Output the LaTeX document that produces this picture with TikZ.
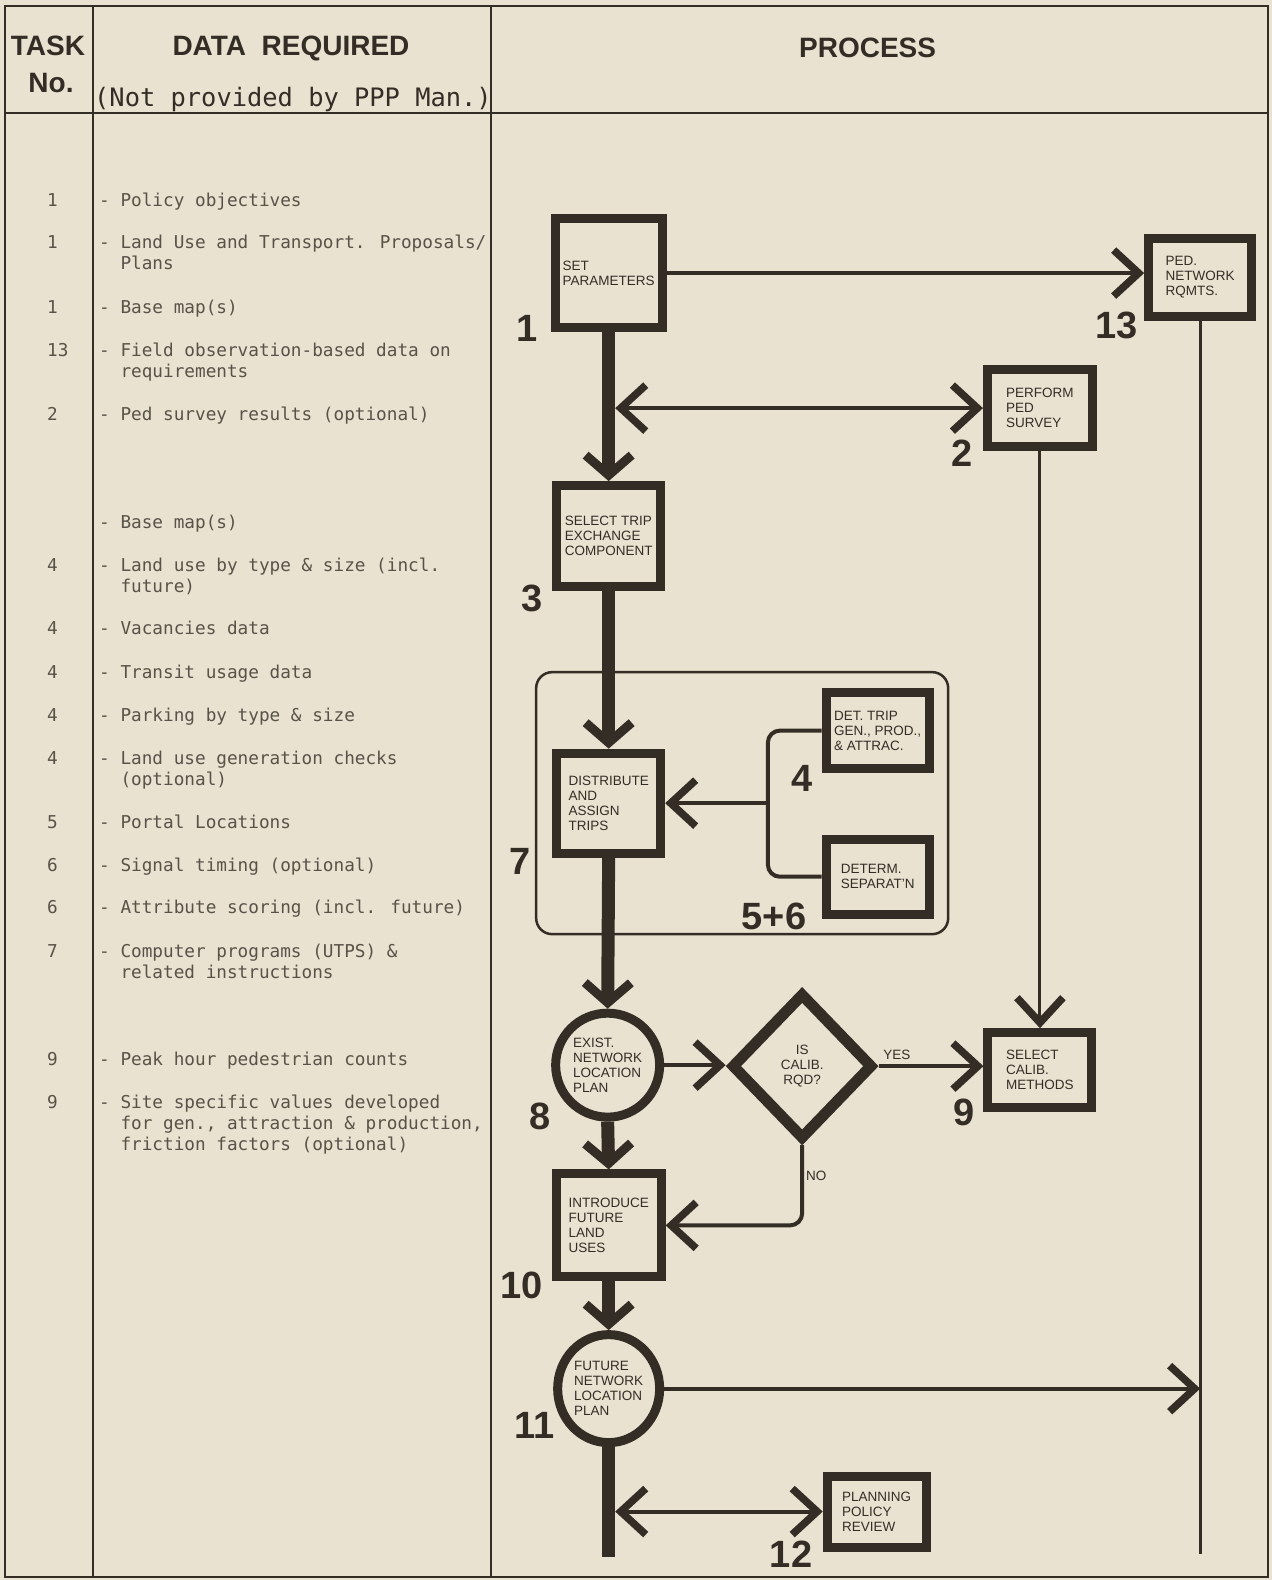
\documentclass[tikz,border=0pt]{standalone}
\usepackage{fontspec}
\setmainfont{Liberation Sans}
\newfontfamily\monof{DejaVu Sans Mono}
\usetikzlibrary{arrows.meta,shapes.geometric}
\definecolor{paper}{RGB}{233,226,208}
\definecolor{ink}{RGB}{52,45,38}
\definecolor{typew}{RGB}{88,82,72}
\newcommand{\pbfont}{\fontsize{13.5}{15}\selectfont}
\newcommand{\datafont}{\monof\fontsize{17.7}{21}\selectfont}
\newcommand{\numfont}{\fontsize{38}{40}\selectfont\bfseries}
\newcommand{\hdrfont}{\fontsize{28}{30}\selectfont\bfseries}
\begin{document}
\begin{tikzpicture}[x=1pt,y=-1pt,
  chev/.tip={Straight Barb[length=25pt,width=46pt,line width=7.5pt]},
  bigchev/.tip={Straight Barb[length=20pt,width=46pt,line width=9pt]},
  pbox/.style={draw=ink, line width=9pt, rectangle, align=left, font=\pbfont, text=ink, inner sep=0pt},
  circ/.style={draw=ink, line width=9pt, ellipse, align=left, font=\pbfont, text=ink, inner sep=0pt},
  dq/.style={draw=ink, line width=11pt, diamond, align=center, font=\pbfont, text=ink, inner sep=0pt},
  grp/.style={draw=ink, line width=2.5pt, rounded corners=16pt, rectangle, inner sep=0pt},
  trunk/.style={draw=ink, line width=13pt},
  link/.style={draw=ink, line width=4pt},
  thinlink/.style={draw=ink, line width=3pt},
  numlab/.style={font=\numfont, text=ink, inner sep=0pt},
  smalllab/.style={font=\pbfont, text=ink, inner sep=0pt},
  hdr/.style={font=\hdrfont, text=ink, inner sep=0pt, anchor=base},
  dtxt/.style={anchor=base west, inner sep=0pt, font=\datafont, text=typew, align=left},
  tline/.style={draw=ink, line width=1.8pt}
]
% background / bounding box
\fill[paper] (0,0) rectangle (1272,1580);
\useasboundingbox (0,0) rectangle (1272,1580);

% table
\draw[tline] (5,6) rectangle (1268,1577);
\draw[tline] (5,113) -- (1268,113);
\draw[tline] (93,6) -- (93,1577);
\draw[tline] (491,6) -- (491,1577);

% headers
\node[hdr] (hTask) at (48,55) {TASK};
\node[hdr] (hNo) at (51,92) {No.};
\node[hdr] (hData) at (291,55) {DATA\ \ REQUIRED};
\node[anchor=base, inner sep=0pt, text=ink, font=\monof\fontsize{25.4}{27}\selectfont] (hNot) at (293,106) {(Not provided by PPP Man.)};

% data column (multi-line entries are placed at the baseline of their last line)
\node[dtxt] (t1) at (47,206) {1};
\node[dtxt] (d1) at (99,206) {- Policy objectives};
\node[dtxt] (t2) at (47,248) {1};
\node[dtxt] (d2) at (99,269) {- Land Use and Transport. Proposals/\\\phantom{-x}Plans};
\node[dtxt] (t3) at (47,313) {1};
\node[dtxt] (d3) at (99,313) {- Base map(s)};
\node[dtxt] (t4) at (47,356) {13};
\node[dtxt] (d4) at (99,377) {- Field observation-based data on\\\phantom{-x}requirements};
\node[dtxt] (t5) at (47,420) {2};
\node[dtxt] (d5) at (99,420) {- Ped survey results (optional)};
\node[dtxt] (d6) at (99,528) {- Base map(s)};
\node[dtxt] (t7) at (47,571) {4};
\node[dtxt] (d7) at (99,592) {- Land use by type \& size (incl.\\\phantom{-x}future)};
\node[dtxt] (t8) at (47,634) {4};
\node[dtxt] (d8) at (99,634) {- Vacancies data};
\node[dtxt] (t9) at (47,678) {4};
\node[dtxt] (d9) at (99,678) {- Transit usage data};
\node[dtxt] (t10) at (47,721) {4};
\node[dtxt] (d10) at (99,721) {- Parking by type \& size};
\node[dtxt] (t11) at (47,764) {4};
\node[dtxt] (d11) at (99,785) {- Land use generation checks\\\phantom{-x}(optional)};
\node[dtxt] (t12) at (47,828) {5};
\node[dtxt] (d12) at (99,828) {- Portal Locations};
\node[dtxt] (t13) at (47,871) {6};
\node[dtxt] (d13) at (99,871) {- Signal timing (optional)};
\node[dtxt] (t14) at (47,913) {6};
\node[dtxt] (d14) at (99,913) {- Attribute scoring (incl. future)};
\node[dtxt] (t15) at (47,957) {7};
\node[dtxt] (d15) at (99,978) {- Computer programs (UTPS) \&\\\phantom{-x}related instructions};
\node[dtxt] (t16) at (47,1065) {9};
\node[dtxt] (d16) at (99,1065) {- Peak hour pedestrian counts};
\node[dtxt] (t17) at (47,1108) {9};
\node[dtxt] (d17) at (99,1150) {- Site specific values developed\\\phantom{-x}for gen., attraction \& production,\\\phantom{-x}friction factors (optional)};

\begin{scope}[x=1.0077pt,y=-1.0077pt]
\node[hdr] (hProc) at (861,57) {PROCESS};

% group frame
\node[grp, minimum width=412pt, minimum height=262pt] (grpA) at (736.5,797) {};

% process nodes
\node[pbox, minimum width=107pt, minimum height=109pt] (b1) at (604,271) {SET\\PARAMETERS};
\node[pbox, minimum width=103pt, minimum height=78pt] (b13) at (1191,275) {PED.\\NETWORK\\RQMTS.};
\node[pbox, minimum width=105pt, minimum height=77pt] (b2) at (1032,405) {PERFORM\\PED\\SURVEY};
\node[pbox, minimum width=104pt, minimum height=101pt] (b3) at (604,532) {SELECT TRIP\\EXCHANGE\\COMPONENT};
\node[pbox, minimum width=104pt, minimum height=100pt] (b7) at (604,797) {DISTRIBUTE\\AND\\ASSIGN\\TRIPS};
\node[pbox, minimum width=103pt, minimum height=76pt] (b4) at (871,725) {DET. TRIP\\GEN., PROD.,\\\& ATTRAC.};
\node[pbox, minimum width=103pt, minimum height=75pt] (b56) at (871,870) {DETERM.\\SEPARAT'N};
\node[circ, minimum width=104pt, minimum height=104pt] (c8) at (603,1057) {EXIST.\\NETWORK\\LOCATION\\PLAN};
\node[dq, minimum width=142pt, minimum height=147pt] (q) at (796,1058) {IS\\CALIB.\\RQD?};
\node[pbox, minimum width=104pt, minimum height=75pt] (b9) at (1032,1062) {SELECT\\CALIB.\\METHODS};
\node[pbox, minimum width=105pt, minimum height=103pt] (b10) at (604,1216) {INTRODUCE\\FUTURE\\LAND\\USES};
\node[circ, minimum width=102pt, minimum height=108pt] (c11) at (604,1378) {FUTURE\\NETWORK\\LOCATION\\PLAN};
\node[pbox, minimum width=99pt, minimum height=71pt] (b12) at (870,1500) {PLANNING\\POLICY\\REVIEW};

% number labels
\node[numlab] (n1) at (523,326) {1};
\node[numlab] (n13) at (1108,323) {13};
\node[numlab] (n2) at (955,450) {2};
\node[numlab] (n3) at (528,594) {3};
\node[numlab] (n4) at (796,772) {4};
\node[numlab] (n7) at (516,855) {7};
\node[numlab] (n56) at (768,909) {5+6};
\node[numlab] (n8) at (536,1108) {8};
\node[numlab] (n9) at (957,1104) {9};
\node[numlab] (n10) at (518,1276) {10};
\node[numlab] (n11) at (530,1415) {11};
\node[numlab] (n12) at (785,1542) {12};
\node[smalllab] (yes) at (890,1047) {YES};
\node[smalllab] (no) at (810,1167) {NO};

% coordinates for free ends / junctions
\coordinate (j2) at (610.5,405);
\coordinate (e13) at (1191,1542);
\coordinate (brk) at (762,797);
\coordinate (e11) at (604,1545);
\coordinate (j12) at (610.5,1500);

% connectors
\draw[link, -{chev}] (b1.east) -- (b1.east -| b13.west);
\draw[trunk, -{bigchev}] (b1.south) -- (b3.north);
\draw[link, {chev}-{chev}] (j2) -- (b2.west);
\draw[thinlink, -{chev}] (b2.south) -- (b9.north);
\draw[thinlink] (b13.south) -- (e13);
\draw[trunk, -{bigchev}] (b3.south) -- (b7.north);
\draw[link, rounded corners=12pt] (b4.west) -| (brk) |- (b56.west);
\draw[link, -{chev}] (brk) -- (b7.east);
\draw[trunk, -{bigchev}] (b7.south) -- (c8.north);
\draw[link, -{chev}] (c8.east) -- (c8.east -| q.west);
\draw[link, -{chev}] (q.east) -- (q.east -| b9.west);
\draw[link, -{chev}, rounded corners=12pt] (q.south) |- (b10.east);
\draw[trunk, -{bigchev}] (c8.south) -- (b10.north);
\draw[trunk, -{bigchev}] (b10.south) -- (c11.north);
\draw[link, -{chev}] (c11.east) -- (c11.east -| e13);
\draw[trunk] (c11.south) -- (e11);
\draw[link, {chev}-{chev}] (j12) -- (b12.west);
\end{scope}
\end{tikzpicture}
\end{document}
